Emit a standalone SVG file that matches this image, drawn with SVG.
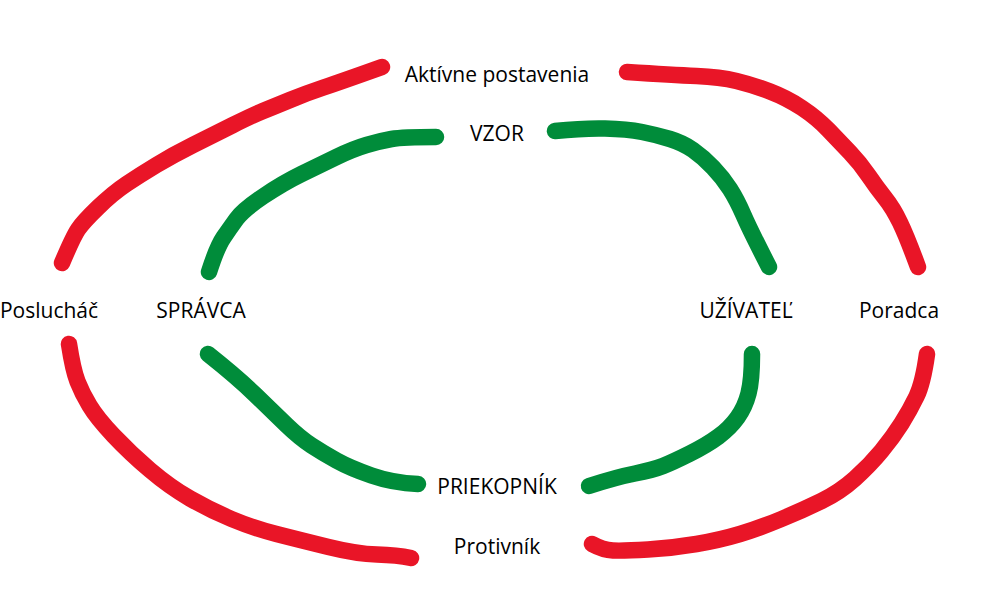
<svg xmlns="http://www.w3.org/2000/svg" width="994" height="591" viewBox="0 0 994 591">
<style>
.r{fill:none;stroke:#e91527;stroke-width:16.5;stroke-linecap:round;stroke-linejoin:round}
.g{fill:none;stroke:#008c3a;stroke-width:16.5;stroke-linecap:round;stroke-linejoin:round}
text{font-family:"Open Sans","Liberation Sans",sans-serif;font-size:21px;fill:#000;text-anchor:middle}
</style>
<rect width="994" height="591" fill="#fff"/>
<g id="connectors">
<path class="r" d="M382 67Q340 82 323.5 87.5Q307 93 290 100Q273 107 263 111Q253 115 233 125Q213 135 193 145Q173 155 156.5 165Q140 175 126.5 184Q113 193 98 207.5Q83 222 78 229.5Q73 237 62 263"/>
<path class="g" d="M436 137Q403 137 391.5 139Q380 141 366.5 145Q353 149 336.5 157Q320 165 301.5 174Q283 183 263 196.5Q243 210 236.5 219Q230 228 223.5 237.5Q217 247 209 272"/>
<path class="r" d="M627 72Q673 75 696.5 76Q720 77 736.5 81Q753 85 770 91.5Q787 98 802 108Q817 118 828.5 130Q840 142 850 152.5Q860 163 868.5 175.5Q877 188 885 198Q893 208 900 222.5Q907 237 918 267"/>
<path class="g" d="M555 131Q583 128 605 128.5Q627 129 642 132Q657 135 670 139Q683 143 693 150Q703 157 713 167.5Q723 178 730 189Q737 200 743.5 215Q750 230 769 267"/>
<path class="r" d="M69 344Q73 370 77.5 381.5Q82 393 89.5 405.5Q97 418 113.5 435.5Q130 453 150 470Q170 487 190 498.5Q210 510 231.5 519Q253 528 276.5 534Q300 540 328.5 547Q357 554 377 554.5Q397 555 411 558"/>
<path class="g" d="M208 354Q237 377 255 394.5Q273 412 286.5 425Q300 438 311.5 445.5Q323 453 336.5 460.5Q350 468 371.5 475.5Q393 483 418 484"/>
<path class="r" d="M927 354Q923 383 916.5 396.5Q910 410 901.5 423.5Q893 437 881.5 451Q870 465 855 478.5Q840 492 821.5 501Q803 510 781.5 519Q760 528 740 534Q720 540 696.5 544Q673 548 648 549.5Q623 551 613 550.5Q603 550 592 544"/>
<path class="g" d="M752 354Q752 380 748.5 393.5Q745 407 737.5 417.5Q730 428 718.5 436.5Q707 445 690 453.5Q673 462 663 466Q653 470 635 473.5Q617 477 589 486"/>
</g>
<g id="aktivne"><text x="497" y="82">Aktívne postavenia</text></g>
<g id="vzor"><text x="497" y="141">VZOR</text></g>
<g id="posluchac"><text x="49" y="318">Poslucháč</text></g>
<g id="spravca"><text x="201" y="318">SPRÁVCA</text></g>
<g id="uzivatel"><text x="746" y="318">UŽÍVATEĽ</text></g>
<g id="poradca"><text x="899" y="318">Poradca</text></g>
<g id="priekopnik"><text x="497" y="494">PRIEKOPNÍK</text></g>
<g id="protivnik"><text x="497" y="554">Protivník</text></g>
</svg>
